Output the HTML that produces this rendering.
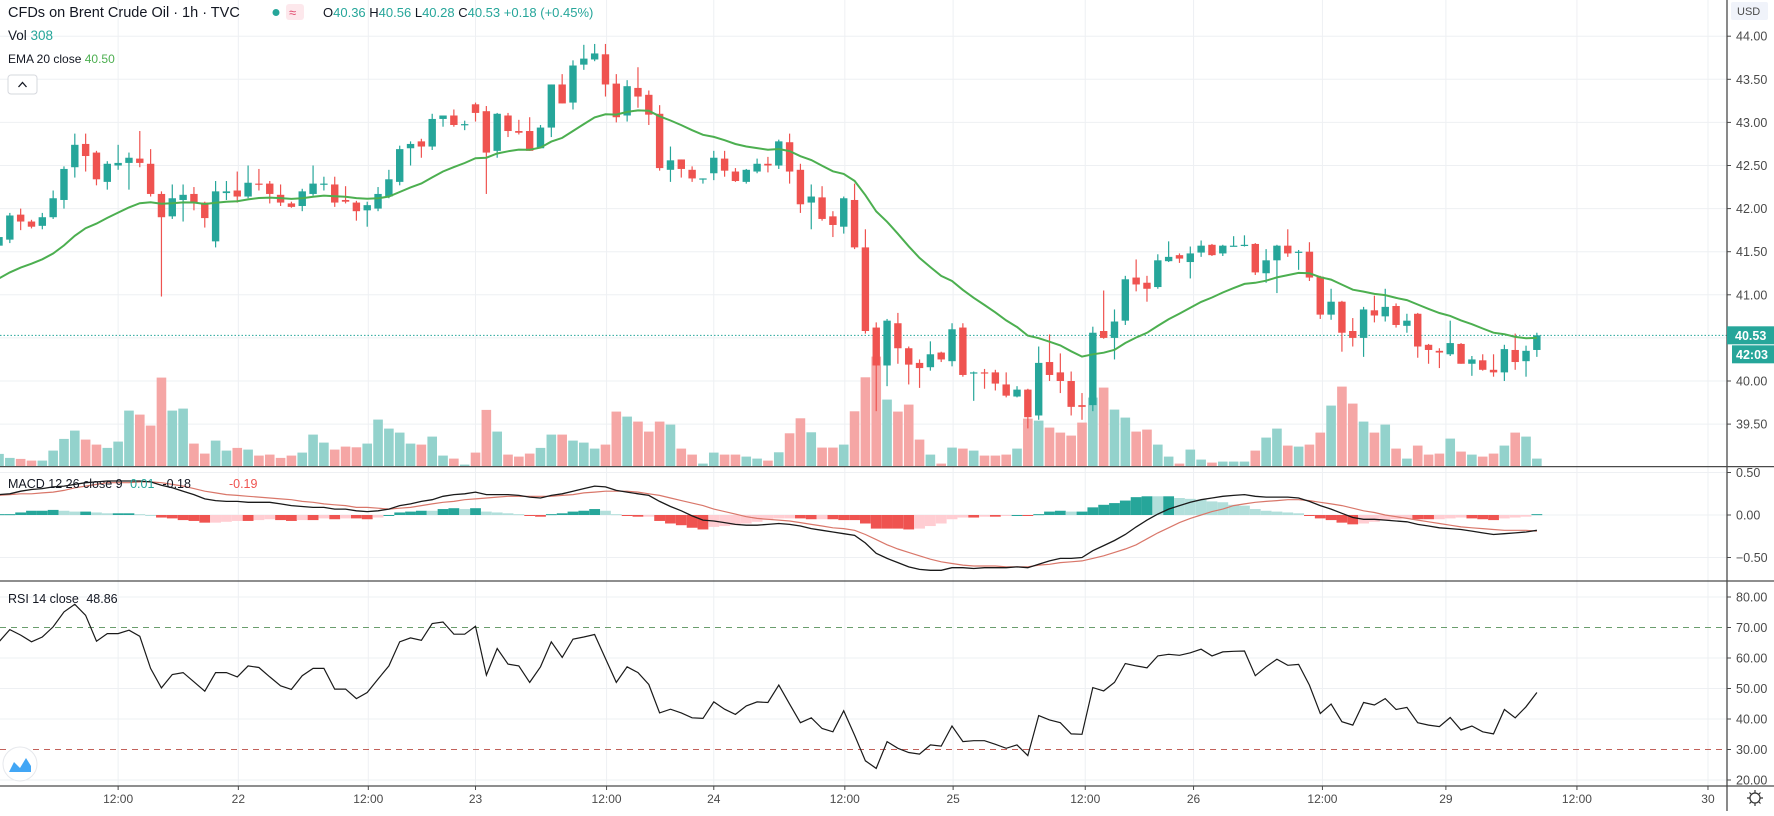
<!DOCTYPE html>
<html><head><meta charset="utf-8">
<style>
html,body{margin:0;padding:0;background:#fff;}
body{width:1774px;height:811px;overflow:hidden;font-family:"Liberation Sans",sans-serif;}
svg text{font-family:"Liberation Sans",sans-serif;}
</style></head>
<body>
<svg id="chart" width="1774" height="811" viewBox="0 0 1774 811" xmlns="http://www.w3.org/2000/svg">
  <g id="grid"></g>
  <g id="vol"></g>
  <g id="candles"></g>
  <g id="ema"></g>
  <g id="macd"></g>
  <g id="rsi"></g>
  <g id="axes"></g>
  <g id="legend">
    <text x="8" y="17" font-size="14.5" fill="#131722">CFDs on Brent Crude Oil · 1h · TVC</text>
    <circle cx="276" cy="12.5" r="3.5" fill="#26a69a"/>
    <rect x="286" y="4" width="18" height="16" rx="3" fill="#fde8ec"/>
    <text x="289" y="17" font-size="13" fill="#e0486d">≈</text>
    <text x="323" y="17" font-size="13" fill="#131722">O<tspan fill="#26a69a">40.36</tspan> H<tspan fill="#26a69a">40.56</tspan> L<tspan fill="#26a69a">40.28</tspan> C<tspan fill="#26a69a">40.53 +0.18 (+0.45%)</tspan></text>
    <text x="8" y="40" font-size="13.5" fill="#131722">Vol <tspan fill="#26a69a">308</tspan></text>
    <text x="8" y="63" font-size="12" fill="#131722">EMA 20 close <tspan fill="#4caf50">40.50</tspan></text>
    <g>
      <rect x="8" y="75" width="29" height="19" rx="3" fill="#fff" stroke="#d6d8de"/>
      <path d="M18.5 87 L22.5 82.5 L26.5 87" fill="none" stroke="#131722" stroke-width="1.3"/>
    </g>
    <text x="8" y="488" font-size="12.5" fill="#131722">MACD 12 26 close 9 <tspan fill="#26a69a" dx="4">0.01</tspan><tspan fill="#131722" dx="8">-0.18</tspan><tspan fill="#ef5350" dx="38">-0.19</tspan></text>
    <text x="8" y="603" font-size="12.5" fill="#131722">RSI 14 close <tspan dx="4">48.86</tspan></text>
    <g>
      <circle cx="20" cy="764" r="17" fill="#fff" stroke="#e6e8ec"/>
      <path d="M9 772 L14 762 L20 768 L26 758 L31 766 L31 772 Z" fill="#2196f3" opacity="0.85"/>
    </g>
  </g>
</svg>
<script>
// ---- data ----
const opens  = [41.57,41.64,41.93,41.85,41.80,41.90,42.10,42.48,42.75,42.65,42.31,42.50,42.53,42.58,42.52,42.17,41.91,42.10,42.17,42.07,41.62,42.18,42.21,42.14,42.29,42.29,42.16,42.06,42.03,42.17,42.29,42.28,42.10,42.07,41.98,42.00,42.14,42.31,42.70,42.78,42.72,43.04,43.08,42.97,43.21,43.13,42.67,43.08,42.90,42.90,42.70,42.94,43.44,43.23,43.67,43.73,43.79,43.45,43.08,43.40,43.32,43.10,42.45,42.57,42.45,42.34,42.41,42.58,42.43,42.31,42.43,42.52,42.50,42.77,42.45,42.07,42.13,41.91,41.79,42.10,41.55,40.62,40.18,40.67,40.38,40.21,40.16,40.33,40.23,40.62,40.09,40.10,40.10,39.96,39.82,39.90,39.60,40.22,40.10,40.00,39.72,39.72,40.58,40.50,40.70,41.20,41.14,41.09,41.39,41.46,41.38,41.49,41.58,41.48,41.57,41.57,41.59,41.25,41.40,41.57,41.50,41.50,41.21,40.77,40.92,40.58,40.50,40.82,40.75,40.87,40.64,40.78,40.42,40.35,40.31,40.43,40.20,40.24,40.13,40.10,40.36,40.23,40.36];
const highs  = [41.70,41.95,42.00,41.87,41.95,42.21,42.49,42.87,42.87,42.67,42.55,42.74,42.65,42.90,42.69,42.20,42.28,42.28,42.25,42.08,42.32,42.32,42.43,42.50,42.46,42.32,42.28,42.08,42.23,42.50,42.37,42.37,42.26,42.09,42.08,42.25,42.45,42.73,42.78,42.81,43.10,43.08,43.15,43.02,43.23,43.19,43.11,43.11,43.03,43.06,42.97,43.44,43.56,43.72,43.90,43.91,43.91,43.56,43.49,43.64,43.37,43.20,42.72,42.57,42.49,42.35,42.67,42.67,42.47,42.46,42.58,42.60,42.80,42.87,42.52,42.28,42.26,41.97,42.14,42.29,41.76,40.68,40.72,40.79,40.40,40.25,40.46,40.34,40.67,40.67,40.11,40.14,40.13,40.10,39.94,39.91,40.40,40.54,40.32,40.11,39.86,40.63,41.05,40.83,41.22,41.41,41.22,41.47,41.62,41.48,41.56,41.63,41.59,41.58,41.68,41.69,41.60,41.53,41.58,41.76,41.52,41.61,41.22,41.07,40.93,40.73,40.86,40.99,41.07,40.90,40.78,40.79,40.43,40.38,40.70,40.44,40.29,40.31,40.31,40.42,40.55,40.41,40.56];
const lows   = [41.52,41.60,41.75,41.77,41.76,41.88,42.00,42.36,42.43,42.27,42.22,42.45,42.22,42.48,42.14,40.98,41.88,41.85,41.98,41.78,41.55,42.10,42.07,42.12,42.21,42.06,42.03,42.01,41.97,42.15,42.21,42.02,42.06,41.86,41.79,41.97,42.12,42.27,42.50,42.59,42.68,42.95,42.95,42.91,43.01,42.17,42.59,42.83,42.86,42.67,42.70,42.83,43.22,43.15,43.61,43.71,43.30,43.00,43.01,43.17,42.97,42.44,42.31,42.36,42.31,42.29,42.33,42.37,42.31,42.29,42.41,42.42,42.46,42.29,41.95,41.76,41.86,41.67,41.71,41.53,40.55,39.65,39.94,40.20,39.96,39.92,40.12,40.22,40.17,40.05,39.77,39.91,39.89,39.81,39.81,39.45,39.55,40.00,39.86,39.60,39.55,39.65,40.49,40.25,40.65,41.04,40.92,41.07,41.38,41.37,41.19,41.44,41.45,41.45,41.56,41.56,41.23,41.14,41.02,41.44,41.29,41.16,40.72,40.71,40.34,40.40,40.28,40.68,40.69,40.62,40.56,40.27,40.20,40.15,40.29,40.20,40.06,40.12,40.05,40.00,40.13,40.05,40.28];
const closes = [41.67,41.92,41.85,41.79,41.90,42.12,42.46,42.74,42.61,42.34,42.52,42.53,42.59,42.53,42.17,41.90,42.12,42.16,42.06,41.89,42.20,42.20,42.14,42.30,42.28,42.17,42.07,42.02,42.20,42.29,42.29,42.07,42.08,41.97,42.04,42.17,42.34,42.69,42.75,42.72,43.04,43.08,42.97,42.98,43.11,42.65,43.10,42.90,42.88,42.67,42.94,43.44,43.22,43.66,43.74,43.80,43.44,43.06,43.42,43.30,43.09,42.47,42.56,42.46,42.35,42.35,42.59,42.44,42.32,42.45,42.52,42.50,42.78,42.43,42.05,42.14,41.88,41.81,42.12,41.55,40.58,40.18,40.70,40.38,40.19,40.15,40.31,40.25,40.60,40.07,40.10,40.09,39.97,39.83,39.90,39.58,40.21,40.07,40.00,39.70,39.70,40.56,40.50,40.69,41.18,41.12,41.07,41.40,41.44,41.42,41.48,41.57,41.46,41.57,41.57,41.58,41.26,41.40,41.57,41.48,41.50,41.20,40.77,40.92,40.56,40.50,40.83,40.76,40.86,40.65,40.70,40.40,40.36,40.33,40.44,40.20,40.25,40.13,40.10,40.37,40.22,40.35,40.53];
const volumes = [489,335,296,231,231,616,1066,1386,1040,847,720,963,2156,2002,1579,3427,2156,2233,886,501,1001,616,720,655,424,462,335,424,539,1232,924,655,770,743,886,1810,1463,1309,886,847,1155,424,308,77,539,2183,1348,462,385,501,720,1232,1232,1001,924,693,847,2118,1925,1733,1348,1733,1617,693,462,116,539,462,462,385,308,231,551,1282,1860,1321,732,732,847,2129,3438,4235,2580,2118,2387,1040,462,116,732,693,616,424,424,462,693,1848,1771,1502,1309,1194,1694,2657,3042,2195,1887,1348,1425,847,385,116,655,270,154,193,193,193,616,1117,1463,809,770,847,1309,2349,3080,2426,1733,1309,1617,693,308,809,462,501,1078,578,462,385,501,809,1309,1155,308];
const emaSeed = 41.19;
const macdLine = [.24,.25,.28,.30,.31,.33,.34,.36,.38,.39,.40,.40,.40,.40,.39,.35,.32,.28,.24,.19,.17,.16,.16,.15,.15,.15,.13,.11,.10,.09,.09,.07,.07,.05,.04,.05,.07,.11,.13,.16,.18,.22,.24,.25,.27,.24,.24,.24,.23,.21,.20,.23,.25,.28,.31,.34,.33,.29,.27,.25,.23,.16,.10,.05,-.01,-.06,-.07,-.09,-.11,-.12,-.12,-.11,-.10,-.11,-.13,-.16,-.18,-.20,-.22,-.24,-.33,-.45,-.51,-.56,-.61,-.64,-.65,-.65,-.62,-.62,-.63,-.62,-.62,-.62,-.61,-.62,-.58,-.54,-.51,-.51,-.50,-.42,-.36,-.30,-.23,-.14,-.06,.01,.07,.11,.15,.18,.20,.22,.23,.24,.22,.21,.21,.21,.20,.16,.11,.07,.02,-.03,-.05,-.05,-.06,-.07,-.08,-.11,-.13,-.15,-.16,-.17,-.19,-.21,-.23,-.22,-.21,-.20,-.18];
const signalLine = [.23,.24,.25,.25,.26,.27,.29,.32,.34,.36,.38,.38,.38,.39,.39,.38,.36,.34,.31,.28,.26,.24,.23,.22,.21,.20,.19,.18,.16,.15,.13,.12,.11,.09,.09,.08,.07,.08,.09,.11,.13,.15,.16,.18,.19,.20,.21,.22,.22,.22,.22,.22,.23,.24,.26,.27,.28,.28,.28,.27,.25,.23,.20,.17,.14,.11,.07,.04,.01,-.02,-.04,-.05,-.06,-.07,-.09,-.11,-.13,-.15,-.16,-.18,-.23,-.29,-.35,-.40,-.44,-.48,-.52,-.55,-.57,-.59,-.60,-.60,-.60,-.61,-.61,-.61,-.59,-.58,-.56,-.55,-.54,-.51,-.48,-.44,-.40,-.35,-.28,-.21,-.15,-.09,-.04,0,.04,.07,.11,.13,.15,.16,.17,.18,.18,.17,.15,.13,.11,.08,.05,.03,0,-.02,-.04,-.06,-.08,-.10,-.12,-.14,-.15,-.16,-.17,-.18,-.18,-.18,-.19];
const rsiValues = [65.3,69.3,67.5,65.3,66.9,70.2,75.1,77.6,74,65.5,68,68,69.1,67.1,56.6,50.2,54.6,55.2,52.2,49.1,55.2,55.2,53.8,57.4,56.9,53.8,50.9,49.7,54.2,56.6,56.6,49.8,49.8,46.7,48.7,53.1,57.4,65.3,66.6,65.8,71.3,71.8,67.8,67.8,70.4,54.4,63.1,58,57.4,52,57.1,65.3,60.2,66.2,66.9,67.7,59.8,52,57.1,55.2,51.3,42,43.2,42,40.4,40.2,45.6,43.2,41.5,44.3,45.6,45.4,51.1,44.9,38.8,40.4,36.9,35.8,42.7,34.7,26.3,23.8,32.6,30.4,29,28.5,31.5,31.1,37.7,32.6,32.9,32.9,31.7,30.4,31.5,28,41.1,39.7,38.8,35.1,35,50.3,49.2,52,58.2,57.4,56.8,60.7,61.2,60.9,61.7,62.9,60.7,62,62.2,62.3,54.2,57.1,59.6,57.6,57.9,51.1,41.8,44.9,39.1,38,45.4,44.6,46.7,43.1,43.8,38.8,38,37.5,40.5,36.4,37.7,35.8,35.1,43.1,40.4,44,48.7];
const priceTicks = [44.00,43.50,43.00,42.50,42.00,41.50,41.00,40.50,40.00,39.50];
const macdTicks = [0.50,0.00,-0.50];
const rsiTicks = [80,70,60,50,40,30,20];
const timeLabels = ["12:00","22","12:00","23","12:00","24","12:00","25","12:00","26","12:00","29","12:00","30"];
const timeIndex = [11,22.1,34.1,44,56.1,66,78.1,88.1,100.3,110.3,122.2,133.6,145.7,157.8];
const lastPrice = 40.53;

// ---- scales ----
const PLOT_R = 1727;
const xOf = i => -1 + i * 10.83;
const yPrice = p => 36.2 + (44 - p) * 86.2;
const yVol = v => 466.6 - v * (110 / 4235);
const yMacd = v => 515 - v * 85;
const yRsi = v => 780 - (v - 20) * 3.05;
const TEAL = '#26a69a', RED = '#ef5350';
const NS = 'http://www.w3.org/2000/svg';
function mk(tag, attrs, parent) {
  const el = document.createElementNS(NS, tag);
  for (const k in attrs) el.setAttribute(k, attrs[k]);
  parent.appendChild(el);
  return el;
}
const grid = document.getElementById('grid');
const axes = document.getElementById('axes');

timeIndex.forEach((ti) => {
  const x = xOf(ti);
  const l = mk('line', {x1: x, x2: x, y1: 0, y2: 786, stroke: '#eef0f3', 'stroke-width': 1}, grid);
  
  
});
priceTicks.forEach(p => {
  const y = yPrice(p);
  const l = mk('line', {x1: 0, x2: PLOT_R, y1: y, y2: y, stroke: '#eef0f3'}, grid);
  
  
});
macdTicks.forEach(v => {
  const y = yMacd(v);
  const l = mk('line', {x1: 0, x2: PLOT_R, y1: y, y2: y, stroke: '#eef0f3'}, grid);
  
  
});
rsiTicks.forEach(v => {
  const y = yRsi(v);
  let attrs = {x1: 0, x2: PLOT_R, y1: y, y2: y, stroke: '#eef0f3'};
  if (v === 70) attrs = {x1: 0, x2: PLOT_R, y1: y, y2: y, stroke: '#6a9e6d', 'stroke-dasharray': '6 5'};
  if (v === 30) attrs = {x1: 0, x2: PLOT_R, y1: y, y2: y, stroke: '#c2615a', 'stroke-dasharray': '6 5'};
  const l = mk('line', attrs, grid);
  
  
});

const volG = document.getElementById('vol');
volumes.forEach((v, i) => {
  const up = closes[i] >= opens[i];
  const y = yVol(v);
  const r = mk('rect', {x: xOf(i) - 4.8, y: y, width: 9.6, height: 466.6 - y, fill: up ? '#93d2cc' : '#f5a6a5'}, volG);
  
  
});

const lp = mk('line', {x1: 0, x2: PLOT_R, y1: yPrice(lastPrice), y2: yPrice(lastPrice), stroke: TEAL, 'stroke-dasharray': '1.5 2', 'stroke-width': 1}, grid);



const cG = document.getElementById('candles');
closes.forEach((c, i) => {
  const o = opens[i], up = c >= o, col = up ? TEAL : RED, x = xOf(i);
  const w = mk('line', {x1: x, x2: x, y1: yPrice(highs[i]), y2: yPrice(lows[i]), stroke: col, 'stroke-width': 1.2}, cG);
  
  
  const top = yPrice(Math.max(o, c)), bot = yPrice(Math.min(o, c));
  const b = mk('rect', {x: x - 3.7, y: top, width: 7.4, height: Math.max(1.2, bot - top), fill: col}, cG);
  
  
});

const emaVals = [];
let e = emaSeed;
closes.forEach((c, i) => { if (i > 0) e = e + (2 / 21) * (c - e); emaVals.push(e); });
const emaPath = mk('path', {d: emaVals.map((v, i) => (i ? 'L' : 'M') + xOf(i).toFixed(1) + ' ' + yPrice(v).toFixed(1)).join(' '), fill: 'none', stroke: '#4caf50', 'stroke-width': 2}, document.getElementById('ema'));



const mG = document.getElementById('macd');
macdLine.forEach((m, i) => {
  const h = m - signalLine[i];
  const prev = i ? macdLine[i - 1] - signalLine[i - 1] : h;
  let col;
  if (h >= 0) col = h >= prev ? TEAL : '#b2dfdb';
  else col = h <= prev ? RED : '#ffcdd2';
  const y0 = yMacd(0), y1 = yMacd(h);
  const r = mk('rect', {x: xOf(i) - 5.4, y: Math.min(y0, y1), width: 10.8, height: Math.max(1, Math.abs(y1 - y0)), fill: col}, mG);
  
  
});
const sigP = mk('path', {d: signalLine.map((v, i) => (i ? 'L' : 'M') + xOf(i).toFixed(1) + ' ' + yMacd(v).toFixed(1)).join(' '), fill: 'none', stroke: '#d9776a', 'stroke-width': 1.2}, mG);


const macP = mk('path', {d: macdLine.map((v, i) => (i ? 'L' : 'M') + xOf(i).toFixed(1) + ' ' + yMacd(v).toFixed(1)).join(' '), fill: 'none', stroke: '#1a1a1a', 'stroke-width': 1.3}, mG);



const rsiP = mk('path', {d: rsiValues.map((v, i) => (i ? 'L' : 'M') + xOf(i).toFixed(1) + ' ' + yRsi(v).toFixed(1)).join(' '), fill: 'none', stroke: '#1a1a1a', 'stroke-width': 1.2}, document.getElementById('rsi'));



[466.6, 581, 786].forEach(y => {
  const l = mk('line', {x1: 0, x2: 1774, y1: y, y2: y, stroke: '#4a4a4a', 'stroke-width': 1.3}, axes);
  
  
});
const ax = mk('line', {x1: PLOT_R, x2: PLOT_R, y1: 0, y2: 811, stroke: '#4a4a4a', 'stroke-width': 1.3}, axes);



function axisLabel(txt, y, name) {
  const tk = mk('line', {x1: PLOT_R, x2: PLOT_R + 4, y1: y, y2: y, stroke: '#4a4a4a'}, axes);
  
  
  const t = mk('text', {x: PLOT_R + 9, y: y + 4.5, 'font-size': 12.5, fill: '#4a4a4a'}, axes);
  t.textContent = txt;
  
  
}
priceTicks.forEach(p => axisLabel(p.toFixed(2), yPrice(p), 'price-axis'));
macdTicks.forEach(v => axisLabel((v < 0 ? '\u2212' : '') + Math.abs(v).toFixed(2), yMacd(v), 'macd-axis'));
rsiTicks.forEach(v => axisLabel(v.toFixed(2), yRsi(v), 'rsi-axis'));

const ly = yPrice(lastPrice);
const b1 = mk('rect', {x: PLOT_R, y: ly - 9, width: 47, height: 18, fill: TEAL}, axes);


const b1t = mk('text', {x: PLOT_R + 8, y: ly + 4.5, 'font-size': 12.5, 'font-weight': 'bold', fill: '#fff'}, axes);
b1t.textContent = lastPrice.toFixed(2);


const b2 = mk('rect', {x: PLOT_R + 5, y: ly + 10, width: 42, height: 18, fill: TEAL}, axes);


const b2t = mk('text', {x: PLOT_R + 9, y: ly + 23.5, 'font-size': 12.5, 'font-weight': 'bold', fill: '#fff'}, axes);
b2t.textContent = '42:03';



const ub = mk('rect', {x: 1731, y: 2, width: 37, height: 18, rx: 2, fill: '#f0f3fa'}, axes);


const ut = mk('text', {x: 1737, y: 15, 'font-size': 11, fill: '#4a4a4a'}, axes);
ut.textContent = 'USD';



timeLabels.forEach((lab, k) => {
  const x = xOf(timeIndex[k]);
  const tk = mk('line', {x1: x, x2: x, y1: 786, y2: 790, stroke: '#4a4a4a'}, axes);
  
  
  const t = mk('text', {x: x, y: 803, 'font-size': 12, fill: '#4a4a4a', 'text-anchor': 'middle'}, axes);
  t.textContent = lab;
  
  
});

const gear = mk('g', {}, axes);


mk('circle', {cx: 1755, cy: 798, r: 5, fill: 'none', stroke: '#333', 'stroke-width': 1.2}, gear);
mk('path', {d: 'M1755 790v3M1755 803v3M1747 798h3M1760 798h3M1749.5 792.5l2 2M1758.5 801.5l2 2M1749.5 803.5l2-2M1758.5 794.5l2-2', stroke: '#333', 'stroke-width': 1.2}, gear);
</script>
</body></html>
